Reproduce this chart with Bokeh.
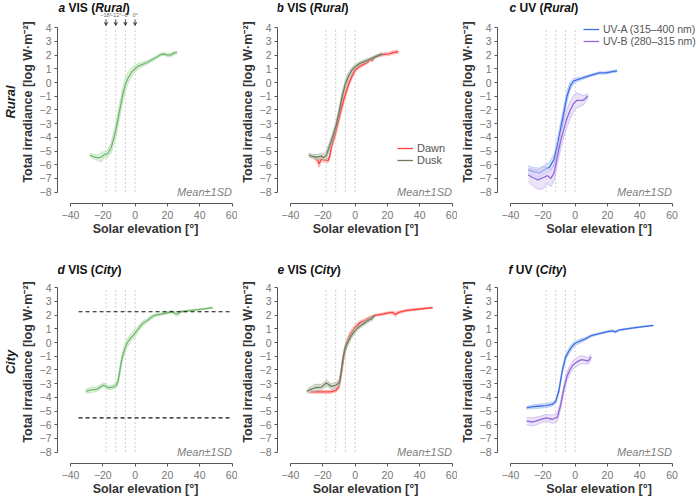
from bokeh.plotting import figure
from bokeh.layouts import row, column
from bokeh.models import (Range1d, FixedTicker, Label, Title, Legend, LegendItem,
                          Arrow, VeeHead)
from bokeh.embed import file_html
from bokeh.resources import INLINE

# ---------------- data ----------------
x_ticks = [-40, -20, 0, 20, 40, 60]
y_ticks = list(range(-8, 5))
twilight_angles = [-18, -12, -6, 0]
twilight_labels = ["\u221218\u00b0", "\u221212\u00b0", "\u22126\u00b0", "0\u00b0"]

# a: VIS rural (all)
a_x = [-28, -26, -23, -21, -19, -17, -15, -13.5, -12, -10.5, -9, -7.5, -6, -4.5, -3, -1.5, 0, 2, 5, 8, 11, 14, 16, 18, 20, 22, 24, 26]
a_mean = [-5.3, -5.4, -5.5, -5.45, -5.25, -5.2, -4.8, -4.2, -3.5, -2.6, -1.7, -0.8, -0.15, 0.3, 0.6, 0.85, 1.0, 1.2, 1.35, 1.5, 1.7, 1.9, 2.05, 2.08, 2.0, 2.0, 2.15, 2.2]
a_sd = [0.15, 0.15, 0.2, 0.35, 0.2, 0.25, 0.35, 0.45, 0.5, 0.5, 0.5, 0.5, 0.45, 0.4, 0.35, 0.3, 0.25, 0.2, 0.15, 0.12, 0.12, 0.1, 0.1, 0.1, 0.12, 0.12, 0.12, 0.1]

# b: VIS rural, dawn / dusk
b_dusk_x = [-28.7, -26, -23.8, -21.5, -20.8, -19.5, -17.8, -15.7, -13.7, -11.7, -10, -8, -6, -4, -2, 0, 3, 6, 9, 12, 14, 17]
b_dusk_mean = [-5.3, -5.4, -5.45, -5.4, -5.35, -5.5, -5.3, -4.6, -3.9, -3.1, -2.2, -1.0, -0.1, 0.5, 0.9, 1.15, 1.4, 1.55, 1.7, 1.85, 1.95, 2.1]
b_dusk_sd = [0.15, 0.15, 0.2, 0.2, 0.2, 0.25, 0.3, 0.3, 0.3, 0.3, 0.3, 0.3, 0.3, 0.25, 0.2, 0.15, 0.12, 0.12, 0.1, 0.1, 0.1, 0.1]
b_dawn_x = [-25, -23, -22.4, -21, -18.8, -16.7, -15.5, -14.7, -12.7, -10.7, -8.7, -6.7, -5, -3.6, -2, 0, 2.5, 5.5, 8, 9.5, 10.5, 12, 15, 18, 21, 24, 26.7]
b_dawn_mean = [-5.5, -5.7, -5.95, -5.6, -5.65, -5.7, -5.3, -4.7, -3.9, -3.0, -2.0, -1.1, -0.5, 0.0, 0.45, 0.9, 1.15, 1.35, 1.5, 1.7, 1.6, 1.85, 2.0, 2.05, 2.1, 2.2, 2.25]
b_dawn_sd = [0.15, 0.2, 0.25, 0.2, 0.15, 0.15, 0.2, 0.25, 0.3, 0.3, 0.3, 0.3, 0.25, 0.2, 0.2, 0.15, 0.12, 0.12, 0.1, 0.1, 0.1, 0.1, 0.1, 0.1, 0.12, 0.12, 0.12]

# c: UV rural
c_uva_x = [-29, -26, -22, -19, -16, -13, -11, -9, -7, -5, -3, -1, 1, 4, 9, 15, 19, 23, 26]
c_uva_mean = [-6.37, -6.5, -6.6, -6.35, -6.2, -5.6, -4.6, -3.4, -2.2, -1.0, -0.25, 0.1, 0.2, 0.3, 0.5, 0.7, 0.7, 0.8, 0.85]
c_uva_sd = [0.3, 0.3, 0.35, 0.3, 0.35, 0.4, 0.45, 0.45, 0.45, 0.4, 0.3, 0.2, 0.15, 0.1, 0.08, 0.08, 0.08, 0.08, 0.08]
c_uvb_x = [-29, -26, -23, -20, -17, -15, -13, -12, -11, -9, -7, -5, -3, -1, 1, 3, 5, 6.5, 8]
c_uvb_mean = [-6.75, -6.95, -7.1, -6.95, -6.8, -7.0, -6.6, -6.0, -5.4, -4.3, -3.4, -2.6, -2.0, -1.55, -1.3, -1.3, -1.3, -1.15, -0.95]
c_uvb_sd = [0.5, 0.6, 0.7, 0.8, 0.6, 0.6, 0.6, 0.6, 0.6, 0.6, 0.6, 0.65, 0.65, 0.6, 0.55, 0.45, 0.35, 0.25, 0.15]

# d: VIS city (all)
d_x = [-30.6, -27, -23.6, -19.6, -16.6, -13.6, -11.6, -10.5, -9.5, -8.5, -7.5, -6.5, -5, -3, -1, 0, 2, 4, 6, 8, 10, 12, 15, 19, 23, 25, 26.5, 28, 31, 35, 39, 44, 48]
d_mean = [-3.55, -3.45, -3.4, -3.1, -3.3, -3.25, -3.1, -2.8, -2.1, -1.4, -0.9, -0.5, -0.05, 0.3, 0.55, 0.7, 1.0, 1.3, 1.5, 1.65, 1.85, 1.98, 2.05, 2.15, 2.25, 2.1, 2.1, 2.25, 2.3, 2.35, 2.4, 2.48, 2.55]
d_sd = [0.15, 0.2, 0.15, 0.15, 0.15, 0.15, 0.2, 0.25, 0.3, 0.3, 0.3, 0.3, 0.3, 0.3, 0.25, 0.25, 0.2, 0.2, 0.15, 0.15, 0.15, 0.1, 0.08, 0.08, 0.08, 0.15, 0.15, 0.08, 0.05, 0.05, 0.05, 0.05, 0.05]
d_ref_levels = [2.25, -5.5]
d_ref_span = [-35, 60]

# e: VIS city, dawn / dusk
e_dusk_x = [-29.9, -27, -24.8, -20.8, -17.8, -14.7, -11.7, -9.7, -8.7, -7.7, -6.7, -5.7, -4, -2.6, -0.5, 1.4, 3.5, 5.5, 8.5, 10.5, 12]
e_dusk_mean = [-3.57, -3.4, -3.3, -3.25, -2.95, -3.2, -3.1, -2.9, -2.2, -1.3, -0.7, -0.25, 0.15, 0.45, 0.8, 1.05, 1.25, 1.4, 1.65, 1.75, 2.0]
e_dusk_sd = [0.15, 0.2, 0.25, 0.2, 0.2, 0.2, 0.2, 0.25, 0.3, 0.3, 0.3, 0.3, 0.25, 0.2, 0.2, 0.15, 0.15, 0.15, 0.15, 0.15, 0.1]
e_dawn_x = [-28, -24, -20, -15, -12, -10, -9, -8, -7, -6, -5, -3, 0, 3, 6, 8, 10, 13, 16, 20, 23, 25, 27, 32, 40, 48]
e_dawn_mean = [-3.6, -3.6, -3.6, -3.6, -3.5, -3.2, -2.6, -1.8, -1.0, -0.4, 0.0, 0.6, 1.1, 1.45, 1.6, 1.75, 1.85, 2.0, 2.05, 2.15, 2.2, 2.05, 2.2, 2.35, 2.45, 2.55]
e_dawn_sd = [0.1, 0.1, 0.1, 0.1, 0.12, 0.2, 0.3, 0.35, 0.35, 0.3, 0.3, 0.25, 0.2, 0.15, 0.12, 0.1, 0.1, 0.08, 0.08, 0.08, 0.1, 0.15, 0.1, 0.08, 0.06, 0.05]

# f: UV city
f_uva_x = [-30, -27, -23, -18, -14, -12, -10, -8, -6, -4, -2, 0, 3, 6, 10, 15, 20, 23, 25, 27, 29, 35, 41, 48.5]
f_uva_mean = [-4.77, -4.7, -4.65, -4.6, -4.5, -4.3, -3.5, -2.1, -1.1, -0.65, -0.3, -0.05, 0.1, 0.25, 0.5, 0.65, 0.8, 0.85, 0.78, 0.9, 0.95, 1.05, 1.15, 1.25]
f_uva_sd = [0.1, 0.12, 0.15, 0.15, 0.15, 0.15, 0.2, 0.2, 0.2, 0.2, 0.2, 0.15, 0.15, 0.1, 0.08, 0.06, 0.06, 0.08, 0.08, 0.06, 0.05, 0.05, 0.04, 0.04]
f_uvb_x = [-30, -26, -22, -18, -14, -11, -9, -7, -5, -3, -1, 2, 4, 6.6, 8, 10]
f_uvb_mean = [-5.74, -5.8, -5.65, -5.5, -5.6, -5.45, -4.6, -3.4, -2.45, -1.95, -1.6, -1.35, -1.25, -1.3, -1.35, -1.05]
f_uvb_sd = [0.25, 0.3, 0.25, 0.25, 0.3, 0.3, 0.3, 0.3, 0.3, 0.3, 0.3, 0.3, 0.3, 0.25, 0.25, 0.2]

# ---------------- styling ----------------
FONT = "Liberation Sans"
XS = 1.615      # px per degree
YS = 13.83      # px per log unit
XGAP = 13       # px between y-axis line and -40
YGAP = 11.5     # px between x-axis line and -8
MBB = 33
TITLE_SIZE = 12

GREEN = ("#6cb86c", "#d0eacb", "#aad8a5")
DAWN = ("#ff4040", "#ffbcbc", "#ff9a9a")
DUSK = ("#6c7e5f", "#c6cfbe", "#a3b198")
UVA = ("#3b6fe6", "#c3d3f7", "#9db7f0")
UVB = ("#9068dc", "#ddd0f4", "#bfa9ea")


def make_panel(width, height, mbl, mbr, mbt):
    frame_w = width - mbl - mbr
    frame_h = height - MBB - mbt
    x0 = -40 - XGAP / XS
    y0 = -8 - YGAP / YS
    p = figure(width=width, height=height, output_backend="svg", toolbar_location=None,
               x_range=Range1d(x0, x0 + frame_w / XS), y_range=Range1d(y0, y0 + frame_h / YS),
               min_border_left=mbl, min_border_right=mbr, min_border_top=mbt,
               min_border_bottom=MBB)
    p.outline_line_color = None
    p.grid.visible = False
    p.background_fill_color = "white"
    for ax, ticks, bounds in ((p.xaxis, x_ticks, (-40, 60)), (p.yaxis, y_ticks, (-8, 4))):
        ax.ticker = FixedTicker(ticks=ticks)
        ax.bounds = bounds
        ax.axis_line_color = "#555555"
        ax.axis_line_width = 1
        ax.major_tick_line_color = "#555555"
        ax.major_tick_out = 3
        ax.major_tick_in = 0
        ax.minor_tick_line_color = None
        ax.major_label_text_font = FONT
        ax.major_label_text_font_size = "10.5px"
        ax.major_label_text_color = "#777777"
        ax.axis_label_text_font = FONT
        ax.axis_label_text_font_size = "12.5px"
        ax.axis_label_text_font_style = "bold"
        ax.axis_label_text_color = "#333333"
    p.xaxis.major_label_standoff = 4
    p.xaxis.axis_label_standoff = 0
    p.yaxis.major_label_standoff = 3
    p.yaxis.axis_label_standoff = 2
    p.xaxis.axis_label = "Solar elevation [\u00b0]"
    p.yaxis.axis_label = "Total irradiance [log W\u00b7m\u207b\u00b2]"
    # twilight reference lines
    p.segment(x0=twilight_angles, x1=twilight_angles,
              y0=[y_ticks[0]] * len(twilight_angles), y1=[y_ticks[-1]] * len(twilight_angles),
              line_color="#cccccc", line_width=1, line_dash="2 2")
    p.add_layout(Label(x=60, y=-8, text="Mean\u00b11SD", text_align="right",
                       text_baseline="middle", text_font=FONT, text_font_size="11px",
                       text_font_style="italic", text_color="#808080"))
    return p


def add_title(p, letter, kind, place, y_pos, off):
    widths = {"a": 556, "b": 611, "c": 556, "d": 611, "e": 556, "f": 333, " ": 278,
              "V": 667, "I": 278, "S": 667, "U": 722, "(": 333, ")": 333, "R": 722,
              "u": 611, "r": 389, "l": 278, "C": 722, "i": 278, "t": 333, "y": 556}
    pieces = [(letter + " ", "bold italic"), (kind + " (", "bold"),
              (place, "bold italic"), (")", "bold")]
    x = off
    for txt, style in pieces:
        p.add_layout(Label(x=p.x_range.start, y=y_pos, x_offset=x, text=txt,
                           text_align="left", text_baseline="middle", text_font=FONT,
                           text_font_size=f"{TITLE_SIZE}px", text_font_style=style,
                           text_color="#111111"))
        x += sum(widths.get(ch, 556) for ch in txt) / 1000 * TITLE_SIZE


def add_series(p, x, mean, sd, colors):
    lo = [m - s for m, s in zip(mean, sd)]
    hi = [m + s for m, s in zip(mean, sd)]
    p.varea(x=x, y1=lo, y2=hi, fill_color=colors[1], fill_alpha=0.6)
    p.line(x, lo, line_color=colors[2], line_width=0.8, line_alpha=0.8)
    p.line(x, hi, line_color=colors[2], line_width=0.8, line_alpha=0.8)
    return p.line(x, mean, line_color=colors[0], line_width=1.3)


def add_legend(p, items, loc, size):
    leg = Legend(items=[LegendItem(label=l, renderers=[r]) for l, r in items],
                 location=loc, border_line_color=None, background_fill_alpha=0,
                 padding=0, margin=0, spacing=0, glyph_width=16, glyph_height=12,
                 label_height=12, label_standoff=4, label_text_font=FONT,
                 label_text_font_size=size, label_text_color="#555555")
    p.add_layout(leg)


def add_row_label(p, text):
    p.add_layout(Title(text=text, align="center", standoff=0,
                       text_font=FONT, text_font_size="13px",
                       text_font_style="bold italic", text_color="#222222"), "left")


H1, H2 = 238, 260
W1, W2, W3 = 237, 220, 243
MBL1, MBL2 = 57, 40
MBR1, MBR2, MBR3 = 4, 4, 0
MBT1, MBT2 = 0, 22
TY1, TY2 = 5.45, 5.27   # title heights (data units)

# ---- row 1 ----
pa = make_panel(W1, H1, MBL1, MBR1, MBT1)
add_series(pa, a_x, a_mean, a_sd, GREEN)
add_title(pa, "a", "VIS", "Rural", TY1, 1)
add_row_label(pa, "Rural")
for ang, lab in zip(twilight_angles, twilight_labels):
    pa.add_layout(Arrow(end=VeeHead(size=3.5, fill_color="#222222", line_color="#222222",
                                    line_width=0.5),
                        x_start=ang, x_end=ang, y_start=4.62, y_end=4.15,
                        line_color="#222222", line_width=0.8))
    pa.add_layout(Label(x=ang, y=4.91, text=lab, text_align="center", text_baseline="middle",
                        text_font=FONT, text_font_size="5.5px", text_color="#666666"))

pb = make_panel(W2, H1, MBL2, MBR2, MBT1)
r_dawn = add_series(pb, b_dawn_x, b_dawn_mean, b_dawn_sd, DAWN)
r_dusk = add_series(pb, b_dusk_x, b_dusk_mean, b_dusk_sd, DUSK)
add_title(pb, "b", "VIS", "Rural", TY1, -1)
add_legend(pb, [("Dawn", r_dawn), ("Dusk", r_dusk)], (120, 37), "11px")

pc = make_panel(W3, H1, MBL2, MBR3, MBT1)
r_uva = add_series(pc, c_uva_x, c_uva_mean, c_uva_sd, UVA)
r_uvb = add_series(pc, c_uvb_x, c_uvb_mean, c_uvb_sd, UVB)
add_title(pc, "c", "UV", "Rural", TY1, 12)
add_legend(pc, [("UV-A (315\u2013400 nm)", r_uva), ("UV-B (280\u2013315 nm)", r_uvb)],
           (86, 156), "10.5px")

# ---- row 2 ----
pd_ = make_panel(W1, H2, MBL1, MBR1, MBT2)
add_series(pd_, d_x, d_mean, d_sd, GREEN)
pd_.segment(x0=[d_ref_span[0]] * 2, x1=[d_ref_span[1]] * 2, y0=d_ref_levels, y1=d_ref_levels,
            line_color="#111111", line_width=1.2, line_dash="4 3")
add_title(pd_, "d", "VIS", "City", TY2, 0)
add_row_label(pd_, "City")

pe = make_panel(W2, H2, MBL2, MBR2, MBT2)
add_series(pe, e_dawn_x, e_dawn_mean, e_dawn_sd, DAWN)
add_series(pe, e_dusk_x, e_dusk_mean, e_dusk_sd, DUSK)
add_title(pe, "e", "VIS", "City", TY2, 0)

pf = make_panel(W3, H2, MBL2, MBR3, MBT2)
add_series(pf, f_uva_x, f_uva_mean, f_uva_sd, UVA)
add_series(pf, f_uvb_x, f_uvb_mean, f_uvb_sd, UVB)
add_title(pf, "f", "UV", "City", TY2, 11)

layout = column(row(pa, pb, pc), row(pd_, pe, pf))

with open("out.html", "w") as fh:
    fh.write(file_html(layout, INLINE))
